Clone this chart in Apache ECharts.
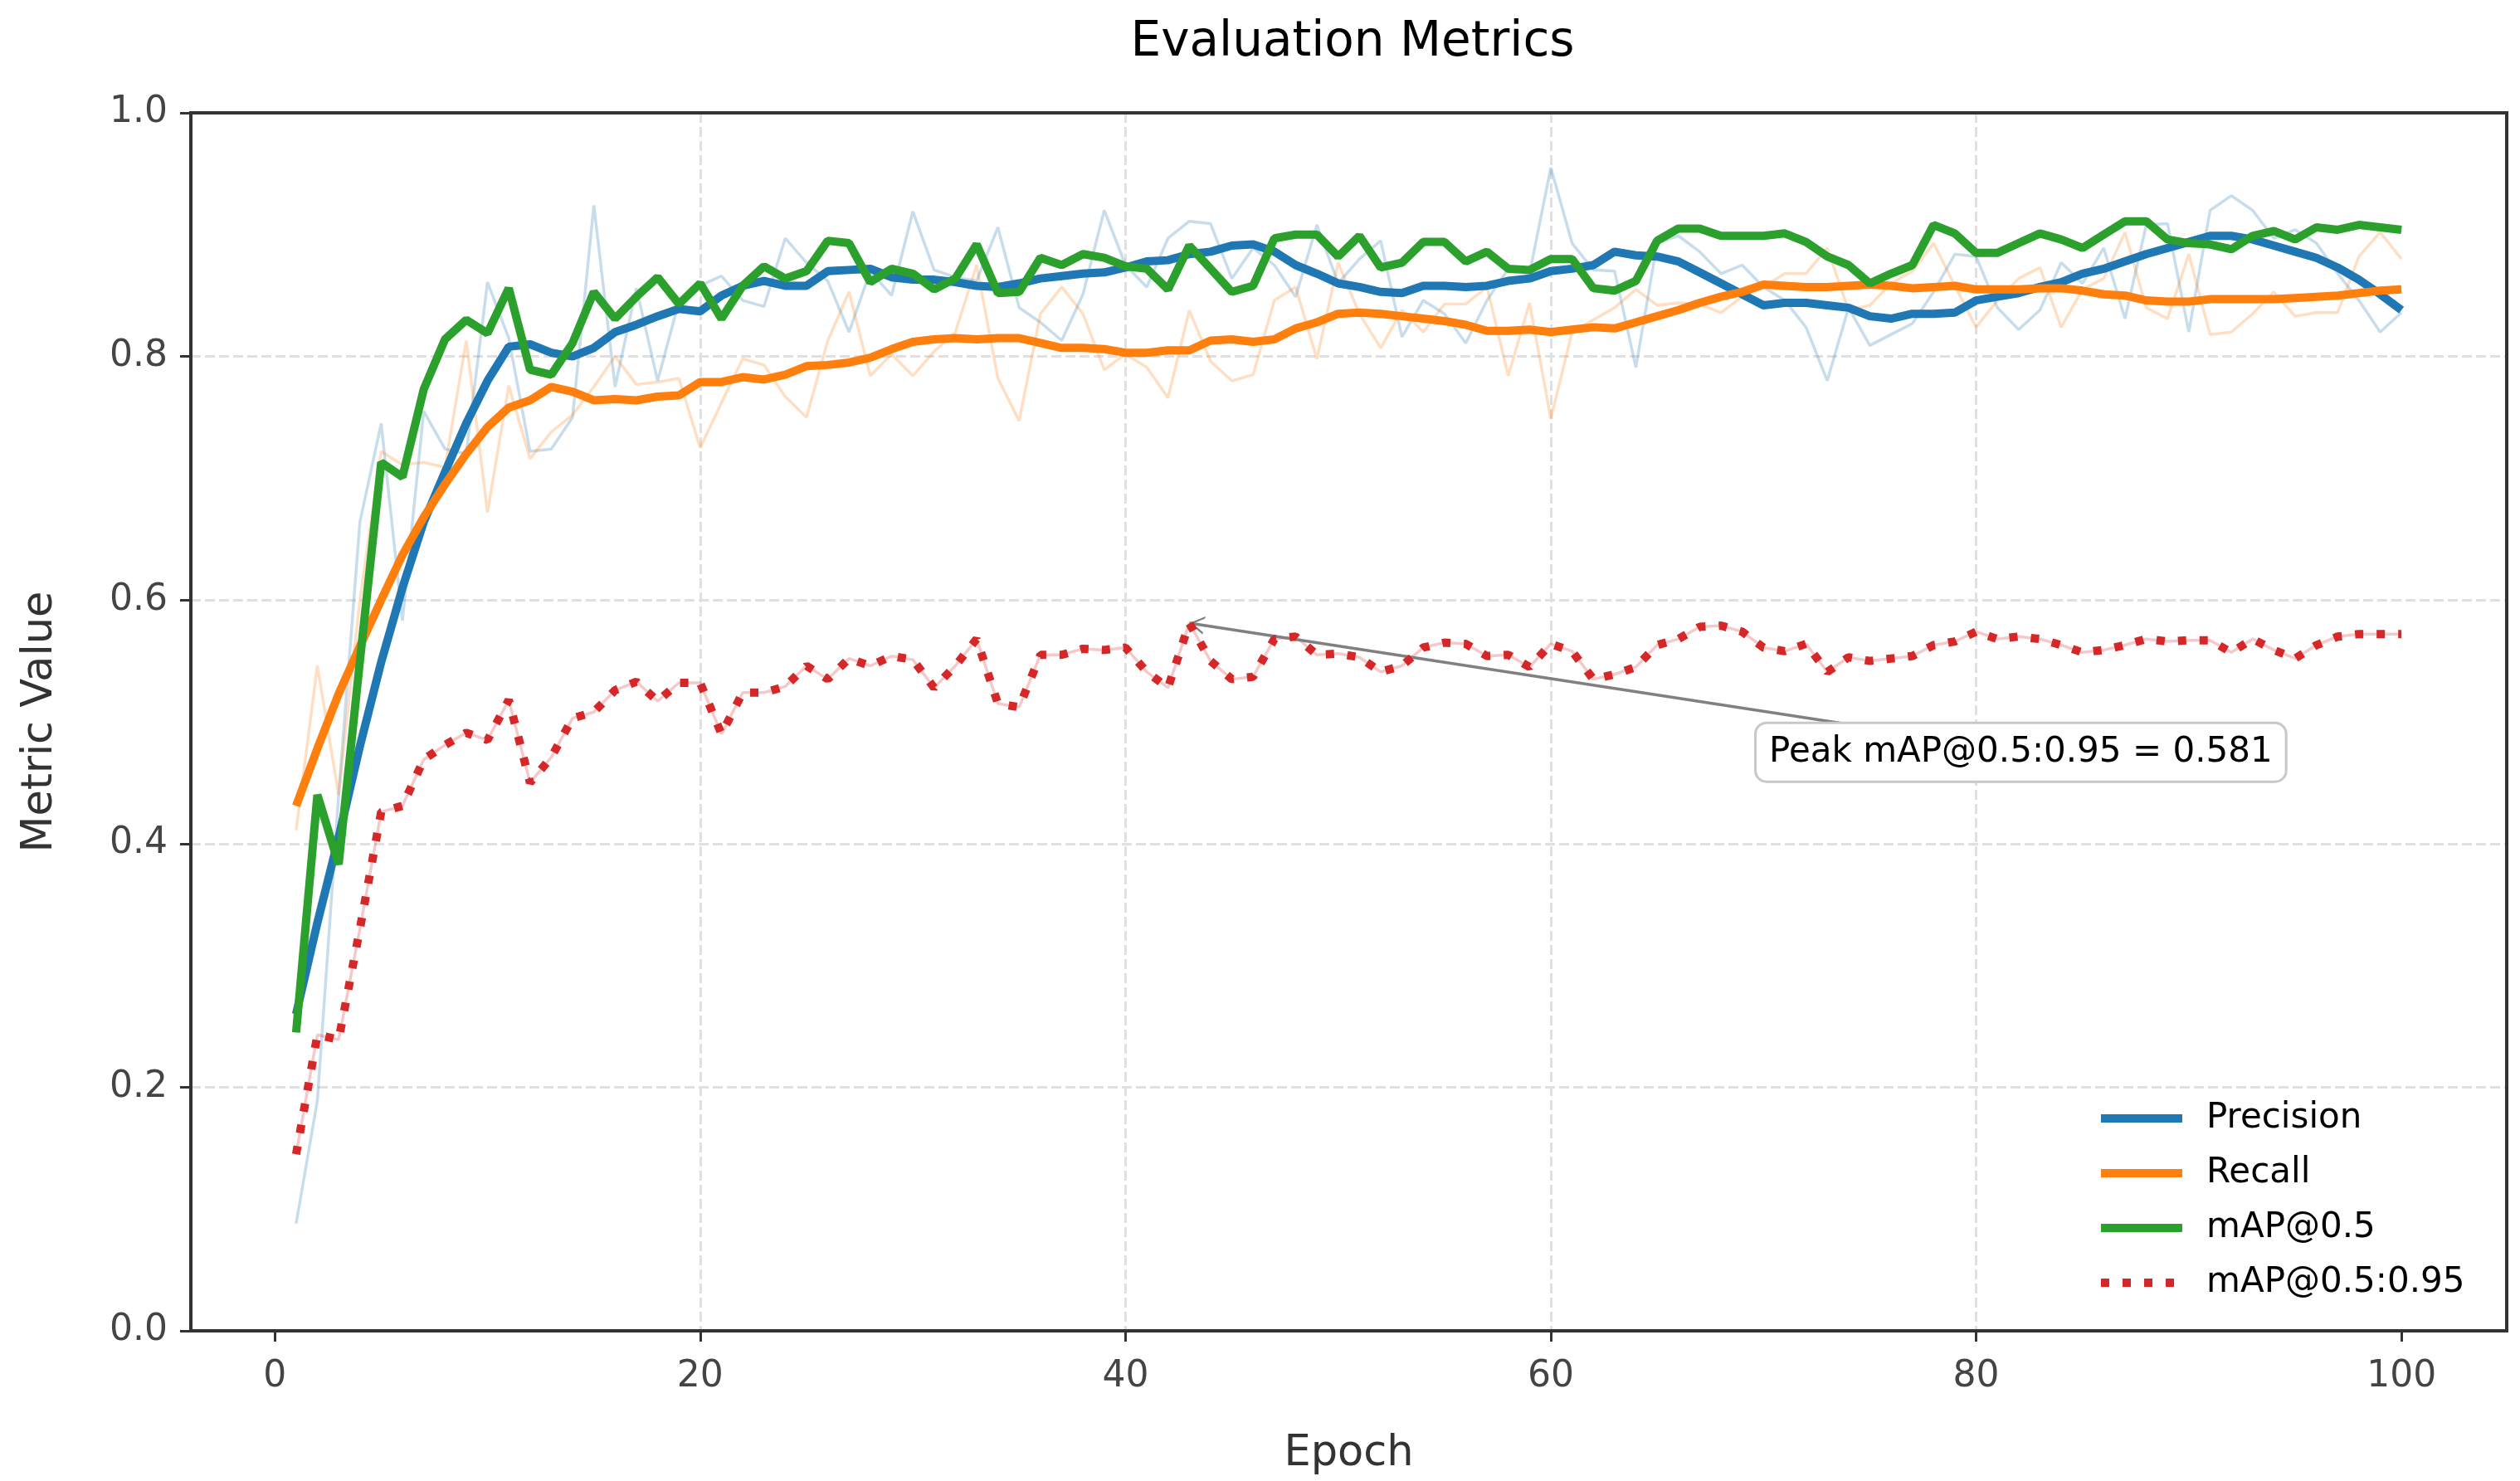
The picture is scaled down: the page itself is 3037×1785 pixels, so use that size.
<!DOCTYPE html>
<html>
<head>
<meta charset="utf-8">
<script src="https://cdn.jsdelivr.net/npm/echarts@6/dist/echarts.min.js"></script>
<style>
html,body{margin:0;padding:0;background:#fff;}
#chart{width:3037px;height:1785px;}
</style>
</head>
<body>
<div id="chart"></div>
<script>
// ---------------- data ----------------
const epochs = Array.from({length: 100}, (_, i) => i + 1);
const xTicks = [0, 20, 40, 60, 80, 100];

const precisionRaw = [0.088,0.189,0.44,0.664,0.745,0.583,0.755,0.724,0.72,0.861,
0.815,0.722,0.724,0.75,0.924,0.775,0.856,0.78,0.845,0.858,
0.866,0.846,0.841,0.897,0.877,0.862,0.82,0.87,0.85,0.919,
0.871,0.865,0.862,0.906,0.84,0.828,0.813,0.851,0.92,0.875,
0.857,0.897,0.911,0.909,0.864,0.889,0.875,0.849,0.908,0.86,
0.88,0.895,0.816,0.846,0.835,0.811,0.846,0.872,0.868,0.955,
0.893,0.871,0.87,0.791,0.893,0.899,0.886,0.868,0.875,0.857,
0.846,0.824,0.78,0.84,0.809,0.818,0.827,0.853,0.884,0.882,
0.84,0.822,0.838,0.877,0.86,0.889,0.831,0.908,0.909,0.82,
0.92,0.932,0.92,0.897,0.904,0.893,0.868,0.846,0.82,0.836];

const precisionSmooth = [0.26,0.335,0.405,0.48,0.549,0.61,0.664,0.705,0.745,0.78,
0.808,0.81,0.803,0.8,0.807,0.82,0.826,0.833,0.839,0.837,
0.85,0.858,0.862,0.858,0.858,0.87,0.871,0.872,0.865,0.863,
0.863,0.861,0.858,0.857,0.86,0.864,0.866,0.868,0.869,0.873,
0.878,0.879,0.884,0.886,0.891,0.892,0.886,0.875,0.868,0.86,
0.857,0.853,0.852,0.858,0.858,0.857,0.858,0.862,0.864,0.87,
0.872,0.875,0.886,0.883,0.882,0.878,0.869,0.86,0.851,0.842,
0.844,0.844,0.842,0.84,0.833,0.831,0.835,0.835,0.836,0.846,
0.849,0.852,0.857,0.861,0.868,0.872,0.878,0.884,0.889,0.894,
0.899,0.899,0.896,0.891,0.886,0.881,0.873,0.863,0.851,0.838];

const recallRaw = [0.411,0.546,0.44,0.6,0.722,0.711,0.713,0.709,0.813,0.672,
0.776,0.716,0.738,0.752,0.775,0.8,0.777,0.779,0.782,0.725,
0.762,0.798,0.793,0.767,0.75,0.813,0.853,0.784,0.802,0.784,
0.804,0.82,0.875,0.782,0.747,0.835,0.857,0.835,0.789,0.802,
0.791,0.766,0.838,0.796,0.78,0.785,0.846,0.857,0.798,0.877,
0.835,0.807,0.838,0.82,0.843,0.843,0.857,0.784,0.844,0.749,
0.82,0.83,0.84,0.855,0.842,0.844,0.843,0.836,0.849,0.857,
0.868,0.868,0.889,0.838,0.842,0.86,0.87,0.893,0.858,0.824,
0.846,0.864,0.873,0.824,0.855,0.864,0.902,0.84,0.831,0.884,
0.818,0.82,0.835,0.853,0.833,0.836,0.836,0.882,0.902,0.88];

const recallSmooth = [0.431,0.478,0.523,0.562,0.6,0.637,0.668,0.695,0.72,0.742,
0.758,0.764,0.775,0.771,0.764,0.765,0.764,0.767,0.768,0.779,
0.779,0.783,0.781,0.785,0.792,0.793,0.795,0.799,0.806,0.812,
0.814,0.815,0.814,0.815,0.815,0.811,0.807,0.807,0.806,0.803,
0.803,0.805,0.805,0.813,0.814,0.812,0.814,0.823,0.828,0.835,
0.836,0.835,0.833,0.831,0.829,0.826,0.821,0.821,0.822,0.82,
0.822,0.824,0.823,0.828,0.833,0.838,0.844,0.849,0.853,0.859,
0.858,0.857,0.857,0.858,0.859,0.858,0.856,0.857,0.858,0.855,
0.855,0.855,0.856,0.856,0.854,0.851,0.85,0.846,0.845,0.845,
0.847,0.847,0.847,0.847,0.848,0.849,0.85,0.852,0.854,0.855];

const map50 = [0.245,0.44,0.383,0.55,0.713,0.701,0.773,0.814,0.83,0.819,
0.856,0.789,0.785,0.811,0.853,0.831,0.849,0.865,0.843,0.86,
0.831,0.858,0.874,0.864,0.87,0.895,0.893,0.861,0.872,0.868,
0.855,0.864,0.892,0.852,0.853,0.881,0.875,0.884,0.881,0.874,
0.872,0.855,0.891,0.872,0.853,0.858,0.897,0.9,0.9,0.882,
0.899,0.873,0.877,0.894,0.894,0.878,0.886,0.872,0.871,0.88,
0.88,0.856,0.854,0.862,0.895,0.905,0.905,0.899,0.899,0.899,
0.901,0.894,0.882,0.875,0.86,0.868,0.875,0.908,0.901,0.885,
0.885,0.893,0.901,0.896,0.889,0.9,0.911,0.911,0.896,0.893,
0.892,0.888,0.899,0.903,0.896,0.906,0.904,0.908,0.906,0.904];

const map5095 = [0.145,0.243,0.239,0.33,0.426,0.431,0.469,0.481,0.491,0.485,
0.518,0.45,0.471,0.503,0.508,0.526,0.533,0.517,0.532,0.532,
0.49,0.524,0.524,0.529,0.546,0.535,0.552,0.546,0.554,0.551,
0.528,0.546,0.568,0.515,0.512,0.555,0.555,0.56,0.559,0.561,
0.541,0.528,0.581,0.55,0.535,0.537,0.568,0.57,0.555,0.556,
0.553,0.541,0.546,0.561,0.565,0.564,0.554,0.555,0.545,0.564,
0.558,0.535,0.539,0.545,0.563,0.568,0.578,0.579,0.574,0.561,
0.558,0.564,0.541,0.553,0.55,0.552,0.554,0.563,0.566,0.574,
0.568,0.57,0.568,0.563,0.557,0.559,0.563,0.568,0.566,0.567,
0.567,0.557,0.568,0.559,0.552,0.563,0.57,0.572,0.572,0.572];

// ---------------- layout / style ----------------
const FONT = 'DejaVu Sans';
const C = {blue:'#1f77b4', orange:'#ff7f0e', green:'#2ca02c', red:'#d62728'};
const pts = arr => epochs.map((e, i) => [e, arr[i]]);
const X_MIN = -3.95, X_MAX = 104.95;
const FRAME = {color: '#333', width: 4};
const GRIDLINE = {color: '#e0e0e0', width: 3, type: [12, 5]};

// peak of mAP@0.5:0.95 (first max)
let peakIdx = 0;
map5095.forEach((v, i) => { if (v > map5095[peakIdx]) peakIdx = i; });
const peakEpoch = epochs[peakIdx], peakVal = map5095[peakIdx];
const annotText = [82.1, 0.475];      // centre of the text box (data coords)
const annotLineStart = [73.8, 0.4985]; // where the arrow leaves the box

const arrowHead = 'path://M10,0 L20,16 L17.6,16 L10,3.8 L2.4,16 L0,16 Z M10,-16 L10.01,-16 L10,-15.99 Z';

const chart = echarts.init(document.getElementById('chart'), null, {renderer: 'canvas'});

const raw = (name, arr, color) => ({
  name, type: 'line', data: pts(arr), showSymbol: false, symbol: 'none',
  lineStyle: {color, width: 3.5, opacity: 0.25}, itemStyle: {color},
  silent: true, z: 1
});
const smooth = (name, arr, color, z, extra) => Object.assign({
  name, type: 'line', data: pts(arr), showSymbol: false, symbol: 'none',
  lineStyle: {color, width: 10}, itemStyle: {color}, z
}, extra || {});

const option = {
  animation: false,
  backgroundColor: '#ffffff',
  textStyle: {fontFamily: FONT},
  title: {
    text: 'Evaluation Metrics', left: 1625, top: 18, textAlign: 'center',
    textStyle: {fontFamily: FONT, fontSize: 58, fontWeight: 'normal', color: '#000'}
  },
  grid: {left: 230, right: 16, top: 136, bottom: 181, show: true,
         borderColor: FRAME.color, borderWidth: FRAME.width, backgroundColor: 'transparent'},
  legend: {
    data: ['Precision', 'Recall', 'mAP@0.5', 'mAP@0.5:0.95'],
    orient: 'vertical', left: 2522, top: 1318,
    itemWidth: 98, itemHeight: 14, itemGap: 16,
    itemStyle: {opacity: 0},
    lineStyle: {width: 10},
    textStyle: {fontFamily: FONT, fontSize: 42, color: '#000', lineHeight: 50, padding: [0, 0, 0, 24]}
  },
  xAxis: [{
    type: 'value', min: X_MIN, max: X_MAX,
    name: 'Epoch', nameLocation: 'middle', nameGap: 123,
    nameTextStyle: {fontFamily: FONT, fontSize: 51, color: '#333'},
    axisLine: {show: true, onZero: false, lineStyle: FRAME},
    axisTick: {show: true, customValues: xTicks, length: 13, lineStyle: {color: '#333', width: 3}},
    axisLabel: {customValues: xTicks, fontFamily: FONT, fontSize: 44, color: '#444', margin: 34},
    splitLine: {show: true, showMinLine: false, showMaxLine: false, lineStyle: GRIDLINE}
  }, {
    type: 'value', min: X_MIN, max: X_MAX, position: 'top',
    axisLine: {show: true, onZero: false, lineStyle: FRAME},
    axisTick: {show: false}, axisLabel: {show: false}, splitLine: {show: false}
  }],
  yAxis: [{
    type: 'value', min: 0, max: 1, interval: 0.2,
    name: 'Metric Value', nameLocation: 'middle', nameGap: 156,
    nameTextStyle: {fontFamily: FONT, fontSize: 51, color: '#333'},
    axisLine: {show: true, onZero: false, lineStyle: FRAME},
    axisTick: {show: true, length: 13, lineStyle: {color: '#333', width: 3}},
    axisLabel: {fontFamily: FONT, fontSize: 44, color: '#444', margin: 28,
                formatter: v => v.toFixed(1)},
    splitLine: {show: true, showMinLine: false, showMaxLine: false, lineStyle: GRIDLINE}
  }, {
    type: 'value', min: 0, max: 1, position: 'right',
    axisLine: {show: true, onZero: false, lineStyle: FRAME},
    axisTick: {show: false}, axisLabel: {show: false}, splitLine: {show: false}
  }],
  series: [
    raw('Precision raw', precisionRaw, C.blue),
    smooth('Precision', precisionSmooth, C.blue, 3),
    raw('Recall raw', recallRaw, C.orange),
    smooth('Recall', recallSmooth, C.orange, 4),
    raw('mAP@0.5 raw', map50, C.green),
    smooth('mAP@0.5', map50, C.green, 5),
    raw('mAP@0.5:0.95 raw', map5095, C.red),
    smooth('mAP@0.5:0.95', map5095, C.red, 6, {
      lineStyle: {color: C.red, width: 10, type: [10, 16], cap: 'butt'},
      markLine: {
        silent: true, animation: false,
        symbol: ['none', arrowHead], symbolSize: [22, 36],
        lineStyle: {color: '#808080', width: 3.5, type: 'solid'},
        label: {show: false}, emphasis: {disabled: true},
        data: [[{coord: annotLineStart}, {coord: [peakEpoch, peakVal]}]]
      },
      markPoint: {
        silent: true, animation: false,
        symbol: 'rect', symbolSize: 1, itemStyle: {color: 'rgba(0,0,0,0)'},
        label: {show: true, position: 'inside',
                formatter: 'Peak mAP@0.5:0.95 = ' + peakVal.toFixed(3),
                fontFamily: FONT, fontSize: 42, color: '#000',
                backgroundColor: '#fff', borderColor: '#c8c8c8', borderWidth: 3, borderRadius: 12,
                padding: [10, 15, 8, 15], lineHeight: 50},
        data: [{coord: annotText}]
      }
    })
  ]
};
chart.setOption(option);
</script>
</body>
</html>
